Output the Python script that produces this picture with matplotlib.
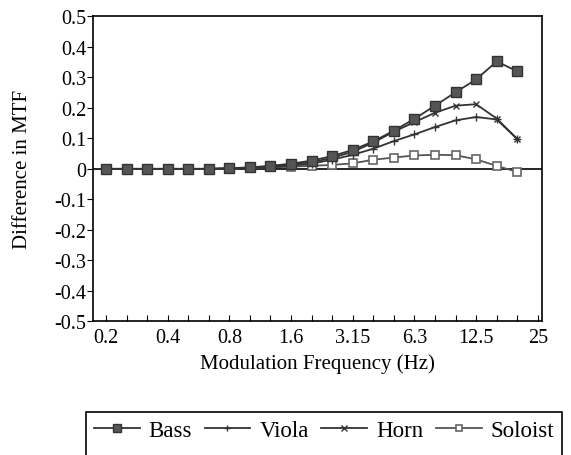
import matplotlib
matplotlib.use("Agg")
import matplotlib.pyplot as plt
from matplotlib.patches import Rectangle
import numpy as np

plt.rcParams["font.family"] = ["Liberation Serif", "DejaVu Serif"]

# third-octave modulation frequencies (Hz), one per marker
freqs = [0.2, 0.25, 0.315, 0.4, 0.5, 0.63, 0.8, 1.0, 1.25, 1.6, 2.0,
         2.5, 3.15, 4.0, 5.0, 6.3, 8.0, 10.0, 12.5, 16.0, 20.0]
tick_labels = ["0.2", "0.4", "0.8", "1.6", "3.15", "6.3", "12.5", "25"]

bass = [0.0, 0.0, 0.0, 0.0, 0.0, 0.0, 0.002, 0.005, 0.01, 0.017, 0.027,
        0.042, 0.062, 0.09, 0.125, 0.164, 0.207, 0.251, 0.293, 0.352, 0.32]
viola = [0.0, 0.0, 0.0, 0.0, 0.0, 0.0, 0.001, 0.003, 0.006, 0.01, 0.017,
         0.03, 0.046, 0.066, 0.091, 0.113, 0.137, 0.159, 0.17, 0.162, 0.098]
horn = [0.0, 0.0, 0.0, 0.0, 0.0, 0.0, 0.002, 0.004, 0.008, 0.014, 0.022,
        0.036, 0.056, 0.086, 0.122, 0.153, 0.184, 0.207, 0.212, 0.165, 0.098]
soloist = [0.0, 0.0, 0.0, 0.0, 0.0, 0.0, 0.001, 0.003, 0.005, 0.007, 0.01,
           0.013, 0.018, 0.03, 0.037, 0.044, 0.046, 0.045, 0.031, 0.01, -0.01]

x = np.arange(len(freqs))

fig = plt.figure(figsize=(5.71, 4.56), dpi=100)
ax = fig.add_axes([0.163, 0.293, 0.786, 0.669])

ax.axhline(0, color="black", lw=1.2, zorder=1)
ax.plot(x, soloist, color="#555555", lw=1.3, marker="s", ms=6,
        mfc="white", mec="#666666", mew=1.2, label="Soloist", zorder=2)
ax.plot(x, viola, color="#333333", lw=1.3, marker="+", ms=6,
        mew=1.0, label="Viola", zorder=3)
ax.plot(x, horn, color="#333333", lw=1.3, marker="x", ms=5,
        mew=1.0, label="Horn", zorder=3)
ax.plot(x, bass, color="#333333", lw=1.3, marker="s", ms=6.5,
        mfc="#555555", mec="#333333", label="Bass", zorder=4)

ax.set_xlim(-0.63, 21.2)
ax.set_ylim(-0.5, 0.5)
ax.set_xticks(np.arange(0, 22))
ax.set_xticklabels([tick_labels[i // 3] if i % 3 == 0 else "" for i in range(22)])
ax.set_yticks(np.arange(-0.5, 0.51, 0.1))
ax.set_yticklabels(["-0.5", "-0.4", "-0.3", "-0.2", "-0.1", "0",
                    "0.1", "0.2", "0.3", "0.4", "0.5"])
ax.tick_params(axis="x", direction="in", length=4, labelsize=14.5, pad=5)
ax.tick_params(axis="y", direction="out", length=4, labelsize=14.5, pad=1)
for s in ax.spines.values():
    s.set_linewidth(1.2)

ax.set_xlabel("Modulation Frequency (Hz)", fontsize=15, labelpad=4)
ax.set_ylabel("Difference in MTF", fontsize=15, labelpad=16)

# legend box: top edge at y~413 px, runs off the bottom of the image
fig.patches.append(Rectangle((0.15, -0.05), 0.835, 0.1443, transform=fig.transFigure,
                             fill=False, ec="black", lw=1.2))
h, l = ax.get_legend_handles_labels()
order = [3, 1, 2, 0]
leg = fig.legend([h[i] for i in order], [l[i] for i in order], ncol=4,
                 loc="upper left", bbox_to_anchor=(0.15, 0.094, 0.835, 0.0),
                 mode="expand", frameon=False, fontsize=16.5,
                 handlelength=2.0, handletextpad=0.4, borderpad=0.35,
                 borderaxespad=0, columnspacing=1.0, markerscale=0.8)

fig.savefig("out.png", dpi=100)
